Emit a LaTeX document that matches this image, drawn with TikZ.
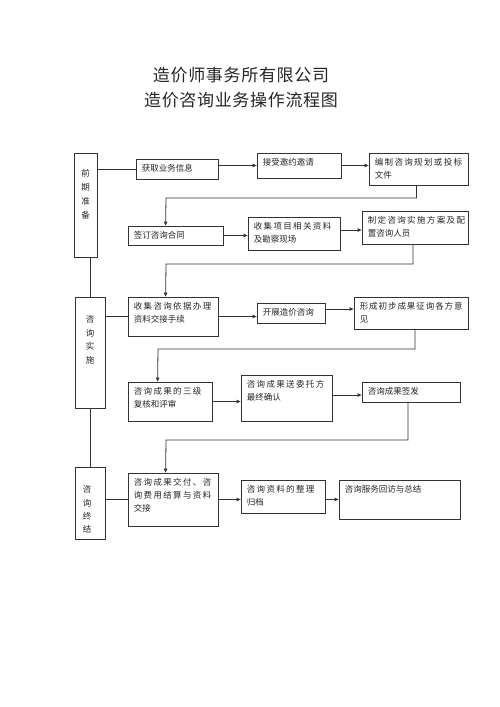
\documentclass[tikz,border=0pt]{standalone}
\usepackage{fontspec}
\newfontfamily\cjk{Noto Sans CJK SC}
\newfontfamily\cjkw[LetterSpace=16]{Noto Sans CJK SC}
\newfontfamily\cjkm[LetterSpace=11]{Noto Sans CJK SC}
\newfontfamily\cjkt[LetterSpace=4]{Noto Sans CJK SC}
\usetikzlibrary{arrows.meta,fit}
\begin{document}
\begin{tikzpicture}[x=1pt,y=-1pt,
  box/.style={draw=black!80, line width=0.8pt, inner sep=0pt},
  txt/.style={anchor=north west, inner xsep=6pt, inner ysep=5.5pt, align=left,
    font=\fontsize{8.5}{13}\cjk, text=black!85},
  vtxt/.style={align=center, font=\fontsize{8.5}{14}\cjk, text=black!85},
  ttl/.style={font=\fontsize{17}{20}\cjkt, text=black!85},
  ln/.style={draw=black!80, line width=0.8pt},
  arr/.style={draw=black!80, line width=0.8pt, -{Triangle[length=4pt,width=3.5pt]}}]
\useasboundingbox[fill=white] (0,0) rectangle (500,707);

% titles
\node[ttl] (t1) at (241,75) {造价师事务所有限公司};
\node[ttl] (t2) at (241,100) {造价咨询业务操作流程图};

% phase boxes
\node[box, fit={(74,153) (97,257)}] (pq) {};
\node[box, fit={(75,297) (105,408)}] (ss) {};
\node[box, fit={(75,467) (105,539)}] (zj) {};
\node[vtxt] (pqt) at (85.5,194) {前\\期\\准\\备};
\node[vtxt, font=\fontsize{8.5}{13.5}\cjk] (sst) at (90,340) {咨\\询\\实\\施};
\node[vtxt, font=\fontsize{8.5}{13.3}\cjk] (zjt) at (87,509.5) {咨\\询\\终\\结};

% step boxes
\node[box, fit={(136,159) (218,179)}] (hq) {};
\node[box, fit={(257,153) (341,178)}] (jy) {};
\node[box, fit={(369,153) (468,185)}] (bz) {};
\node[box, fit={(128,226) (223,245)}] (qd) {};
\node[box, fit={(248,217) (340,250)}] (sj) {};
\node[box, fit={(362,211) (468,244)}] (zd) {};
\node[box, fit={(128,297) (218,336)}] (yj) {};
\node[box, fit={(257,303) (325,323)}] (kz) {};
\node[box, fit={(354,297) (468,329)}] (xc) {};
\node[box, fit={(128,382) (212,421)}] (s3) {};
\node[box, fit={(241,375) (332,421)}] (wt) {};
\node[box, fit={(362,382) (460,402)}] (qf) {};
\node[box, fit={(128,473) (218,526)}] (jf) {};
\node[box, fit={(241,480) (325,513)}] (zl) {};
\node[box, fit={(339,480) (460,519)}] (hf) {};

% texts
\node[txt] (hqt) at (hq.north west) {获取业务信息};
\node[txt] (jyt) at (jy.north west) {接受邀约邀请};
\node[txt] (bzt) at (bz.north west) {{\cjkw 编制咨询规划或投标}\\文件};
\node[txt] (qdt) at (qd.north west) {签订咨询合同};
\node[txt] (sjt) at (sj.north west) {{\cjkw 收集项目相关资料}\\及勘察现场};
\node[txt] (zdt) at (zd.north west) {{\cjkw 制定咨询实施方案及配}\\置咨询人员};
\node[txt] (yjt) at (yj.north west) {{\cjkw 收集咨询依据办理}\\资料交接手续};
\node[txt] (kzt) at (kz.north west) {开展造价咨询};
\node[txt] (xct) at (xc.north west) {{\cjkm 形成初步成果征询各方意}\\见};
\node[txt] (s3t) at (s3.north west) {{\cjkw 咨询成果的三级}\\复核和评审};
\node[txt] (wtt) at (wt.north west) {{\cjkw 咨询成果送委托方}\\最终确认};
\node[txt] (qft) at (qf.north west) {咨询成果签发};
\node[txt] (jft) at (jf.north west) {{\cjkw 咨询成果交付、咨}\\{\cjkw 询费用结算与资料}\\交接};
\node[txt] (zlt) at (zl.north west) {{\cjkw 咨询资料的整理}\\归档};
\node[txt] (hft) at (hf.north west) {咨询服务回访与总结};

% connectors: phase 1
\draw[ln] (pq.east |- hq.west) -- (hq.west);
\draw[arr] (hq.east |- jy.west) -- (jy.west);
\draw[arr] (jy.east) -- (jy.east -| bz.west);
\draw[arr] ([xshift=-2pt]bz.south) |- (166,198) -- ([xshift=38pt]qd.north west);
\draw[arr] (qd.east) -- (qd.east -| sj.west);
\draw[arr] ([yshift=-2.5pt]zd.west -| sj.east) -- ([yshift=-2.5pt]zd.west);
\draw[arr] ([xshift=-2pt]zd.south) |- (166,264) -- ([xshift=38pt]yj.north west);

% phase 2
\draw[ln] (ss.north |- pq.south) -- (ss.north);
\draw[ln] (yj.west -| ss.east) -- (yj.west);
\draw[arr] (yj.east) -- (yj.east -| kz.west);
\draw[arr] ([yshift=4pt]kz.east) -- ([yshift=4pt]kz.east -| xc.west);
\draw[arr] ([xshift=4pt]xc.south) |- (158,349) -- ([xshift=30pt]s3.north west);
\draw[arr] (s3.east) -- (s3.east -| wt.west);
\draw[arr] ([yshift=3pt]wt.east) -- ([yshift=3pt]wt.east -| qf.west);
\draw[arr] ([xshift=-3pt]qf.south) |- (166,440) -- ([xshift=38pt]jf.north west);

% phase 3
\draw[ln] (ss.south) -- (zj.north);
\draw[ln] (zj.east |- jf.west) -- (jf.west);
\draw[arr] (jf.east) -- (jf.east -| zl.west);
\draw[arr] (zl.east |- hf.west) -- (hf.west);
\end{tikzpicture}
\end{document}
